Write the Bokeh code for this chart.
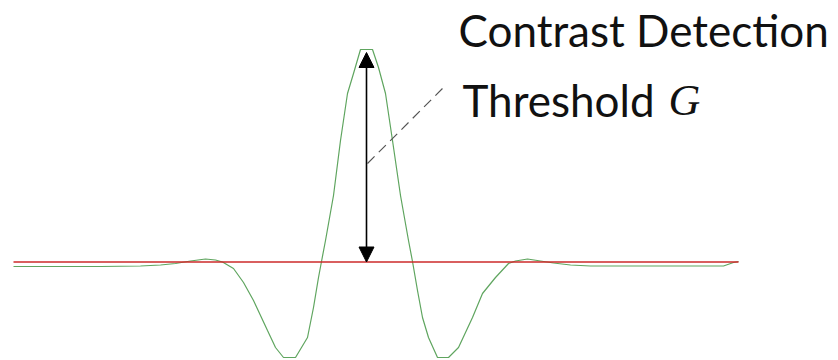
from bokeh.plotting import figure
from bokeh.models import Range1d, Arrow, NormalHead
from bokeh.core.properties import value
from bokeh.embed import file_html
from bokeh.resources import INLINE

# Receptive-field profile (position vs. response)
pos = [-35.3, -30.6, -26.6, -22.6, -20.6, -19.1, -17.6, -16.1, -15.1, -14.4,
       -13.3, -12.3, -11.3, -9.9, -9.1, -8.3, -7.1, -5.9, -5.3, -4.8,
       -4.5, -4.1, -3.3, -2.6, -1.9, -1.3, -0.6, 0.6, 1.2, 1.9,
       2.6, 3.4, 4.2, 4.6, 5.1, 5.6, 6.2, 7.1, 8.2, 9.2,
       10.6, 11.6, 12.9, 14.2, 14.9, 16.1, 17.4, 18.7, 20.4, 22.4,
       25.4, 31.4, 35.7, 36.7, 37.2]
resp = [-0.45, -0.45, -0.45, -0.4, -0.3, -0.15, 0.1, 0.3, 0.2, 0.0,
        -0.65, -2.05, -3.85, -6.85, -8.55, -9.55, -9.55, -7.55, -4.55, -1.55,
        0.05, 2.15, 6.65, 12.15, 16.85, 18.85, 21.25, 21.25, 19.45, 16.85,
        12.15, 6.65, 2.15, 0.05, -2.85, -5.55, -7.55, -9.55, -9.55, -8.55,
        -5.55, -3.15, -1.55, -0.15, 0.1, 0.3, 0.1, -0.1, -0.3, -0.4,
        -0.4, -0.4, -0.4, -0.05, 0.05]

baseline_x = [-35.3, 37.2]
baseline_y = [0.0, 0.0]

threshold_bottom = 0.0
threshold_top = 20.95
pointer_x = [0.1, 8.0]
pointer_y = [9.85, 17.75]

label1 = "Contrast Detection"
label2 = "Threshold"
label3 = "G"
label1_pos = (9.2, 23.2)
label2_pos = (9.6, 16.2)
label3_pos = (30.2, 16.2)

p = figure(width=838, height=360, output_backend="svg", toolbar_location=None,
           x_range=Range1d(-36.6, 47.2), y_range=Range1d(-9.85, 26.15),
           min_border=0, outline_line_color=None)
p.axis.visible = False
p.grid.visible = False
p.background_fill_color = "white"
p.border_fill_color = "white"

p.line(pos, resp, line_color="#5fa55f", line_width=1.2)
p.line(baseline_x, baseline_y, line_color="#cc2a2a", line_width=1.6)

p.line(pointer_x, pointer_y, line_color="#555555", line_width=1.2, line_dash="10 6")

p.add_layout(Arrow(x_start=0, y_start=threshold_bottom, x_end=0, y_end=threshold_top,
                   line_color="black", line_width=1.6,
                   start=NormalHead(size=15, fill_color="black", line_color="black"),
                   end=NormalHead(size=15, fill_color="black", line_color="black")))

p.text(x=[label1_pos[0]], y=[label1_pos[1]], text=[label1], text_font=value("Lato"),
       text_font_size="44px", text_color="#111111", text_baseline="alphabetic", text_align="left")
p.text(x=[label2_pos[0]], y=[label2_pos[1]], text=[label2], text_font=value("Lato"),
       text_font_size="44px", text_color="#111111", text_baseline="alphabetic", text_align="left")
p.text(x=[label3_pos[0]], y=[label3_pos[1]], text=[label3], text_font=value("Liberation Serif"),
       text_font_style="italic", text_font_size="44px", text_color="#111111",
       text_baseline="alphabetic", text_align="left")

open("out.html", "w").write(file_html(p, INLINE))
